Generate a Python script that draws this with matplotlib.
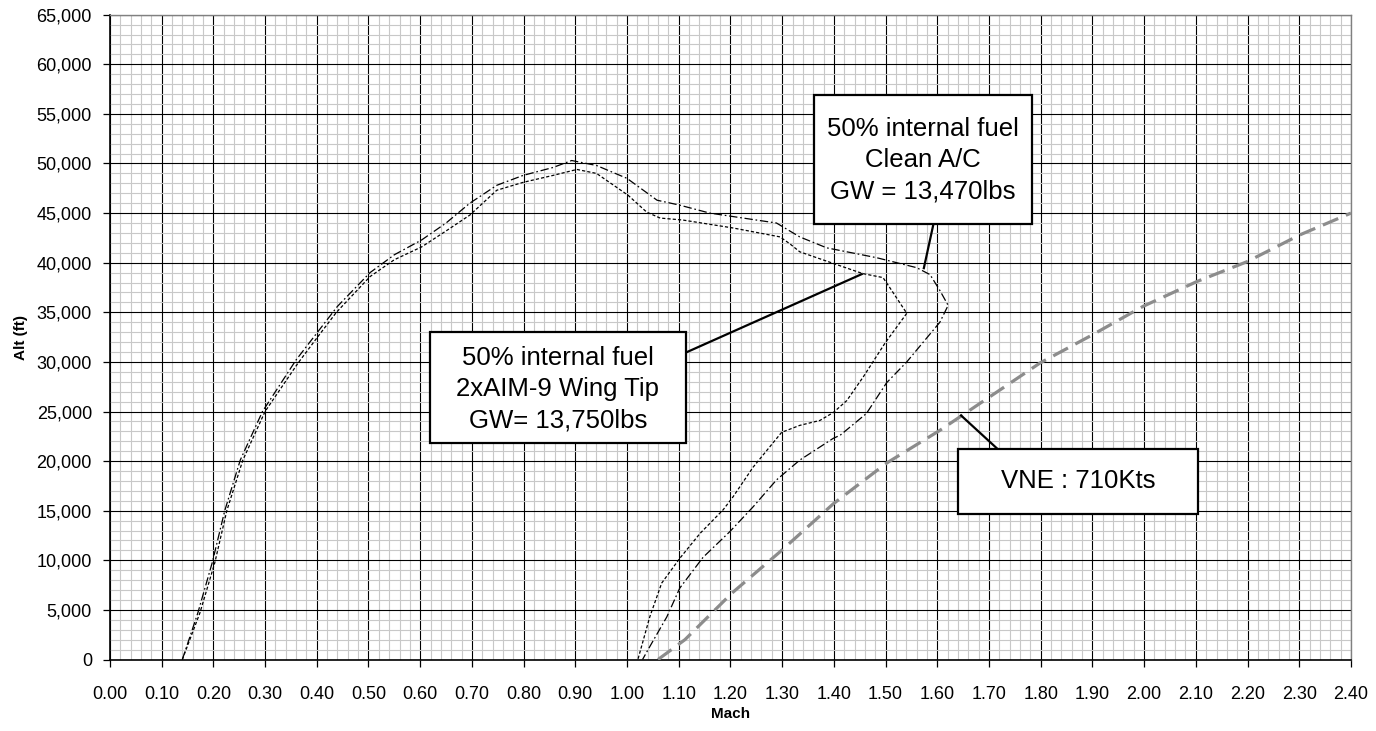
import matplotlib
matplotlib.use("Agg")
import matplotlib.pyplot as plt
from matplotlib.patches import Rectangle
from matplotlib.ticker import MultipleLocator, FuncFormatter

plt.rcParams['font.family'] = ['Liberation Sans', 'DejaVu Sans']
plt.rcParams['lines.scale_dashes'] = False

# ---- data ----
mach_aim = [0.14, 0.174, 0.203, 0.226, 0.257, 0.30, 0.364, 0.40, 0.438, 0.503, 0.55, 0.603, 0.65,
            0.696, 0.748, 0.799, 0.857, 0.903, 0.941, 1.002, 1.038, 1.064, 1.108, 1.205, 1.296,
            1.315, 1.334, 1.367, 1.456, 1.495, 1.508, 1.541, 1.499, 1.457, 1.425, 1.399, 1.373,
            1.334, 1.299, 1.244, 1.205, 1.186, 1.141, 1.102, 1.067, 1.044, 1.021]
alt_aim = [0, 4700, 9800, 15000, 20100, 25000, 29900, 32400, 35000, 38600, 40300, 41600, 43200,
           44800, 47300, 48100, 48800, 49400, 49000, 46800, 45100, 44500, 44300, 43500, 42600,
           41900, 41100, 40500, 38900, 38500, 37500, 34900, 31900, 28500, 26100, 24900, 24100,
           23600, 22900, 19400, 16400, 15100, 12700, 10200, 7700, 4300, 0]

mach_clean = [0.14, 0.17, 0.198, 0.222, 0.252, 0.295, 0.36, 0.40, 0.44, 0.503, 0.55, 0.603, 0.65,
              0.696, 0.748, 0.799, 0.857, 0.893, 0.941, 1.0, 1.058, 1.102, 1.160, 1.289, 1.334,
              1.386, 1.483, 1.560, 1.586, 1.605, 1.621, 1.605, 1.541, 1.502, 1.463, 1.412, 1.399,
              1.334, 1.289, 1.244, 1.199, 1.147, 1.102, 1.077, 1.044, 1.03]
alt_clean = [0, 4700, 9800, 15000, 20100, 25000, 30200, 32900, 35600, 39000, 40800, 42300, 44000,
             46000, 47800, 48800, 49600, 50300, 49800, 48500, 46300, 45800, 45000, 44000, 42600,
             41500, 40500, 39500, 38800, 37200, 35700, 34000, 30000, 27900, 24800, 22600, 22300,
             20100, 18100, 15400, 12900, 10300, 7200, 4300, 1300, 0]

mach_vne = [1.06, 1.112, 1.203, 1.299, 1.399, 1.502, 1.605, 1.702, 1.799, 1.899, 1.998, 2.102,
            2.199, 2.301, 2.40]
alt_vne = [0, 2000, 6700, 11000, 15700, 19800, 23100, 26500, 29900, 32700, 35600, 38100,
           40100, 42800, 45000]

label_clean = "50% internal fuel\nClean A/C\nGW = 13,470lbs"
label_aim = "50% internal fuel\n2xAIM-9 Wing Tip\nGW= 13,750lbs"
label_vne = "VNE : 710Kts"

# ---- figure ----
fig = plt.figure(figsize=(13.76, 7.31), dpi=100)
ax = fig.add_axes([0.0799, 0.0978, 0.9019, 0.8821])

ax.set_xlim(0, 2.40)
ax.set_ylim(0, 65000)
ax.xaxis.set_major_locator(MultipleLocator(0.1))
ax.xaxis.set_minor_locator(MultipleLocator(0.02))
ax.yaxis.set_major_locator(MultipleLocator(5000))
ax.yaxis.set_minor_locator(MultipleLocator(1000))
ax.xaxis.set_major_formatter(FuncFormatter(lambda v, p: f"{v:.2f}"))
ax.yaxis.set_major_formatter(FuncFormatter(lambda v, p: f"{int(round(v)):,}"))

ax.grid(which='minor', color='#c8c8c8', linewidth=0.8)
ax.grid(which='major', color='black', linewidth=0.8)
ax.set_axisbelow(True)

ax.tick_params(which='minor', length=0)
ax.tick_params(which='major', length=5, width=0.9, color='black', labelsize=13)
ax.tick_params(axis='x', pad=14)
ax.tick_params(axis='y', pad=8)

for s in ['top', 'right']:
    ax.spines[s].set_color('#808080')
    ax.spines[s].set_linewidth(1.0)
for s in ['left', 'bottom']:
    ax.spines[s].set_color('black')
    ax.spines[s].set_linewidth(1.2)

ax.set_xlabel("Mach", fontsize=11, fontweight='bold', labelpad=3)
ax.set_ylabel("Alt (ft)", fontsize=11, fontweight='bold', labelpad=6)

ax.plot(mach_vne, alt_vne, color='#8c8c8c', linewidth=2.3, dashes=(12, 6), zorder=3,
        solid_capstyle='butt', dash_capstyle='butt')
ax.plot(mach_aim, alt_aim, color='black', linewidth=0.9, dashes=(2.3, 1.5), zorder=4)
ax.plot(mach_clean, alt_clean, color='black', linewidth=0.9, dashes=(6, 2, 1.2, 2), zorder=4)

# annotation leader lines
ax.plot([1.593, 1.574], [44000, 39450], color='black', linewidth=1.6, zorder=5)
ax.plot([1.112, 1.454], [30900, 38850], color='black', linewidth=1.6, zorder=5)
ax.plot([1.715, 1.646], [21300, 24600], color='black', linewidth=1.6, zorder=5)

# annotation boxes (x0, y0, x1, y1) in data units
boxes = [
    ((1.361, 43890, 1.783, 56890), (1.572, 50340), label_clean),
    ((0.619, 21820, 1.114, 33010), (0.866, 27260), label_aim),
    ((1.640, 14660, 2.104, 21210), (1.872, 17990), label_vne),
]
for (x0, y0, x1, y1), (tx, ty), txt in boxes:
    ax.add_patch(Rectangle((x0, y0), x1 - x0, y1 - y0, facecolor='white',
                           edgecolor='black', linewidth=1.6, zorder=6))
    ax.text(tx, ty, txt, ha='center', va='center', fontsize=18.5, linespacing=1.38,
            zorder=7, multialignment='center')

fig.savefig("out.png", dpi=100)
